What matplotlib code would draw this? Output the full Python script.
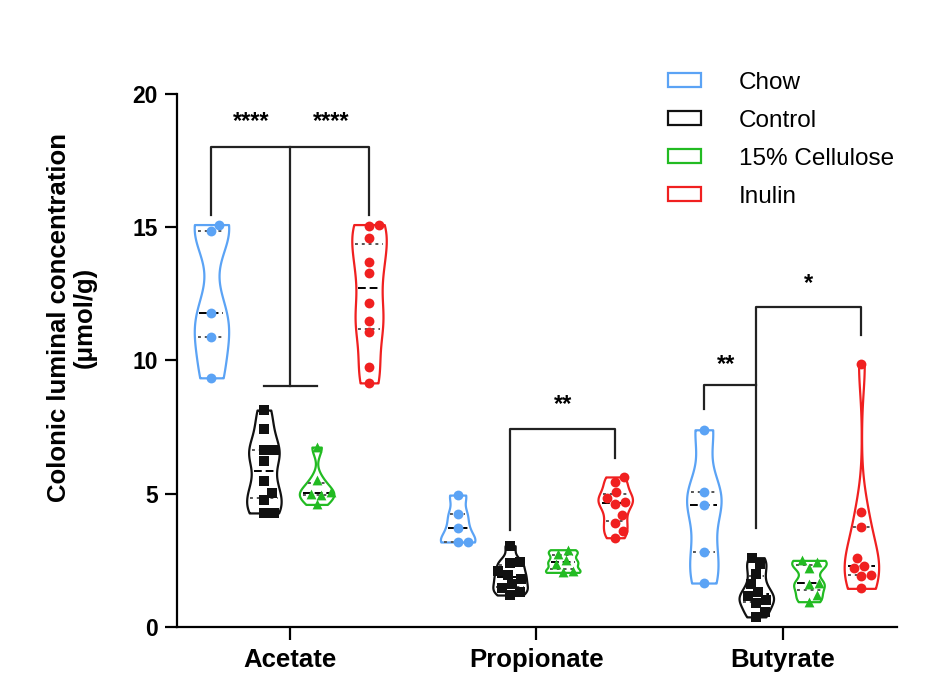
import numpy as np
import matplotlib.pyplot as plt
from matplotlib.patches import Patch

plt.rcParams['font.family'] = ['Liberation Sans', 'DejaVu Sans']

categories = ['Acetate', 'Propionate', 'Butyrate']
groups = ['Chow', 'Control', '15% Cellulose', 'Inulin']
colors = ['#5ba3f5', '#111111', '#22bb22', '#f02020']
markers = ['o', 's', '^', 'o']

# values (umol/g)
acetate = [
    [15.1, 14.85, 11.8, 10.9, 9.35],
    [8.14, 7.43, 6.64, 6.64, 6.23, 5.48, 5.03, 4.77, 4.28, 4.28],
    [6.75, 5.5, 5.05, 5.0, 4.95, 4.6],
    [15.1, 15.05, 14.6, 13.7, 13.3, 12.15, 11.5, 11.07, 9.76, 9.16],
]
propionate = [
    [4.95, 4.24, 3.71, 3.19, 3.19],
    [3.05, 2.45, 2.4, 2.1, 1.95, 1.8, 1.6, 1.45, 1.3, 1.2],
    [2.9, 2.75, 2.5, 2.35, 2.1, 2.05],
    [5.63, 5.44, 5.06, 4.84, 4.7, 4.6, 4.2, 3.9, 3.6, 3.35],
]
butyrate = [
    [7.4, 5.07, 4.58, 2.8, 1.65],
    [2.6, 2.35, 2.0, 1.6, 1.3, 1.15, 1.0, 0.9, 0.55, 0.38],
    [2.5, 2.45, 2.2, 1.65, 1.6, 1.2, 0.95],
    [9.85, 4.3, 3.75, 2.6, 2.3, 2.2, 1.95, 1.9, 1.45],
]
data = [acetate, propionate, butyrate]
offsets = [-0.32, -0.107, 0.107, 0.32]

# rough pixel scale of the axes, used only to keep points from piling up
XPX, YPX = 246.0, 26.65


def swarm(vals, diam=10, maxoff=14):
    vals = np.asarray(vals, dtype=float)
    order = np.argsort(vals)
    placed = []
    offs = np.zeros(len(vals))
    cands = [0]
    for k in range(1, maxoff + 1):
        cands += [k, -k]
    for i in order:
        best, bestd = 0, -1
        for c in cands:
            d = min([np.hypot(c - px, (vals[i] - py) * YPX) for px, py in placed]
                    or [99])
            if d >= diam:
                best = c
                break
            if d > bestd:
                best, bestd = c, d
        placed.append((best, vals[i]))
        offs[i] = best / XPX
    return offs


fig = plt.figure(figsize=(9.34, 6.9), dpi=100)
ax = fig.add_axes([0.1895, 0.0913, 0.771, 0.7725])

for ci, cat in enumerate(data):
    for gi, vals in enumerate(cat):
        pos = ci + offsets[gi]
        vp = ax.violinplot([vals], positions=[pos], widths=0.14,
                           showextrema=False, bw_method=0.4, points=200)
        body = vp['bodies'][0]
        body.set_facecolor('white')
        body.set_edgecolor(colors[gi])
        body.set_linewidth(1.6)
        body.set_alpha(1)
        verts = body.get_paths()[0].vertices
        right = verts[verts[:, 0] >= pos]
        srt = np.argsort(right[:, 1])
        q1, med, q3 = np.percentile(vals, [25, 50, 75])
        for q, ls, col in [(q1, (0, (1.5, 2)), '#555555'),
                           (q3, (0, (1.5, 2)), '#555555'),
                           (med, (0, (4, 2)), 'black')]:
            hw = np.interp(q, right[srt, 1], right[srt, 0]) - pos
            ax.plot([pos - hw * 0.8, pos + hw * 0.8], [q, q], ls=ls,
                    color=col, lw=1.4, zorder=3)
        xs = pos + swarm(vals)
        ax.scatter(xs, vals, marker=markers[gi], s=50, color=colors[gi],
                   zorder=4, linewidths=0)

# significance brackets
bk = dict(color='#222222', lw=1.6, zorder=2)
ax.plot([-0.32, -0.32, 0.32, 0.32], [15.45, 18.0, 18.0, 15.45], **bk)
ax.plot([0, 0], [18.0, 9.05], **bk)
ax.plot([-0.107, 0.107], [9.05, 9.05], **bk)
ax.plot([1 - 0.107, 1 - 0.107, 1.32, 1.32], [3.64, 7.43, 7.43, 6.34], **bk)
ax.plot([2 - 0.32, 2 - 0.32, 2 - 0.107], [8.18, 9.08, 9.08], **bk)
ax.plot([2 - 0.107, 2 - 0.107, 2.32, 2.32], [3.7, 12.0, 12.0, 10.95], **bk)
stars = [(-0.16, 18.95, '****'), (0.165, 18.95, '****'),
         (1.107, 8.35, '**'), (1.77, 9.85, '**'), (2.107, 12.9, '*')]
for x, y, s in stars:
    ax.text(x, y, s, ha='center', va='center', fontsize=17, fontweight='bold')

ax.set_xlim(-0.46, 2.465)
ax.set_ylim(0, 20)
ax.set_yticks([0, 5, 10, 15, 20])
ax.set_xticks([0, 1, 2])
ax.set_xticklabels(categories)
for sp in ['top', 'right']:
    ax.spines[sp].set_visible(False)
for sp in ['left', 'bottom']:
    ax.spines[sp].set_linewidth(1.6)
ax.tick_params(axis='both', width=1.6, length=9, direction='out')
ax.tick_params(axis='y', labelsize=16.5, pad=5)
ax.tick_params(axis='x', labelsize=18.5, pad=6)
for lab in ax.get_xticklabels() + ax.get_yticklabels():
    lab.set_fontweight('bold')

fig.text(0.077, 0.54, 'Colonic luminal concentration\n(\u03bcmol/g)',
         rotation=90, ha='center', va='center', fontsize=18.5,
         fontweight='bold', multialignment='center', linespacing=1.1)

handles = [Patch(facecolor='white', edgecolor=c, lw=1.6) for c in colors]
fig.legend(handles, groups, loc='upper left', bbox_to_anchor=(0.692, 0.928),
           frameon=False, fontsize=17.5, handlelength=1.35, handleheight=0.55,
           labelspacing=0.66, handletextpad=1.55)

fig.savefig('out.png', dpi=100)
